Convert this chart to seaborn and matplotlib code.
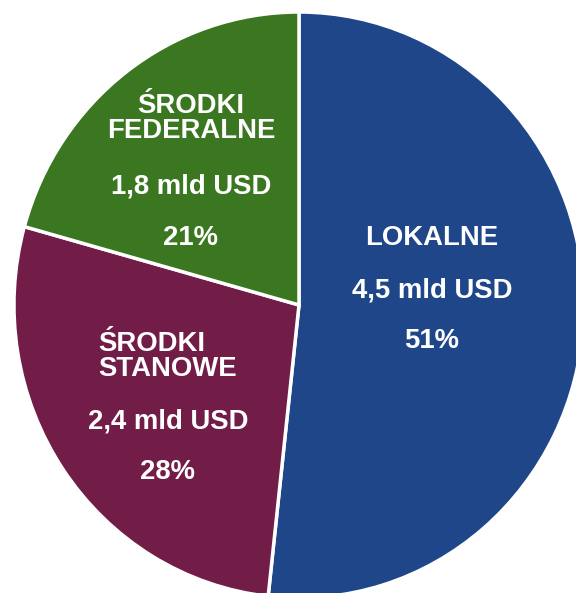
import numpy as np
import matplotlib
matplotlib.use("Agg")
import matplotlib.pyplot as plt
import seaborn as sns

sns.set_style("white")
plt.rcParams['font.family'] = ['Liberation Sans', 'DejaVu Sans']

# data (mld USD)
categories = ['LOKALNE', 'ŚRODKI\nSTANOWE', 'ŚRODKI\nFEDERALNE']
values = [4.5, 2.4, 1.8]
value_labels = ['4,5 mld USD', '2,4 mld USD', '1,8 mld USD']
pct_labels = ['51%', '28%', '21%']
colors = ['#1F4689', '#721D47', '#3B7720']

fig = plt.figure(figsize=(5.76, 5.93), dpi=100)
ax = fig.add_axes([0, 0, 1, 1])

wedges, _ = ax.pie(values, colors=colors, startangle=90, counterclock=False,
                   radius=1.0, wedgeprops={'edgecolor': 'white', 'linewidth': 2.5})

# the source image is slightly stretched vertically and cut at the bottom
ax.set_xlim(-1.049, 0.972)
ax.set_ylim(-0.983, 1.041)
ax.set_aspect('auto')
ax.axis('off')

# label block positions (x, title y, value y, pct y) and title alignment
layout = [
    (0.467, 0.229, 0.051, -0.123, 'center'),
    (-0.46, -0.176, -0.399, -0.570, 'left'),
    (-0.379, 0.637, 0.406, 0.229, 'center'),
]
txt = dict(color='white', fontsize=19.8, fontweight='bold')
for cat, val, pct, (x, ty, vy, py, al) in zip(categories, value_labels, pct_labels, layout):
    ax.text(x, ty, cat, ha='center', va='center', multialignment=al,
            linespacing=0.96, **txt)
    ax.text(x, vy, val, ha='center', va='center', **txt)
    ax.text(x, py, pct, ha='center', va='center', **txt)

fig.savefig('out.png', dpi=100)
